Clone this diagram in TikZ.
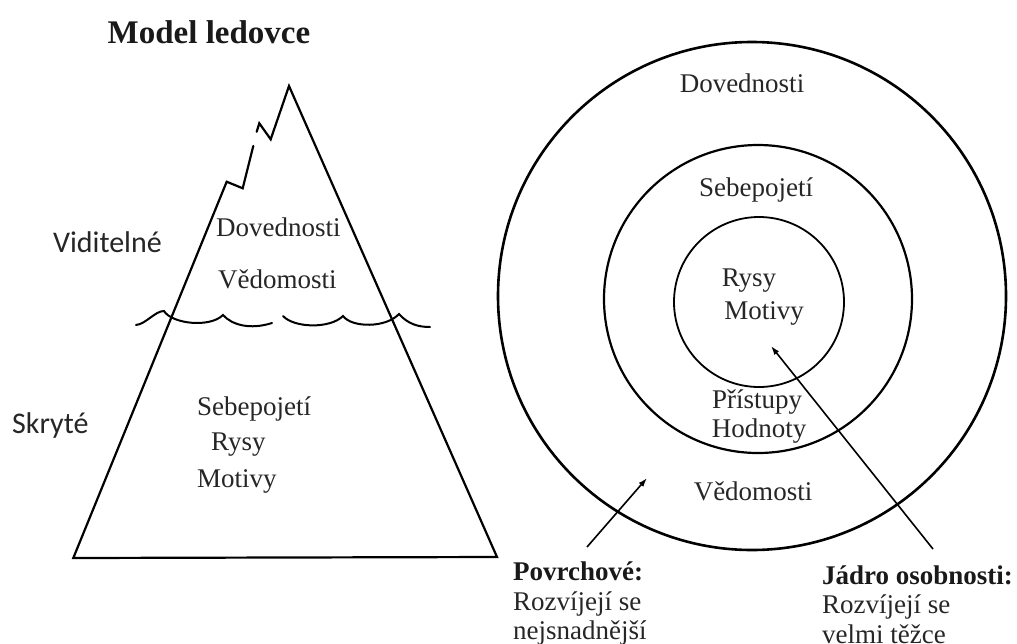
\documentclass[tikz,border=0pt]{standalone}
\usepackage{fontspec}
\setmainfont{Liberation Serif}
\newfontfamily\calfont{Carlito}
\usetikzlibrary{arrows.meta}
\definecolor{ink}{rgb}{0.15,0.15,0.15}
\begin{document}
\begin{tikzpicture}[x=1pt,y=-1pt,
  ln/.style={line width=2.2pt, line join=miter, line cap=round},
  wave/.style={line width=2pt, line cap=round},
  ring/.style={circle, draw, inner sep=0pt, outer sep=0pt},
  txt/.style={font=\fontsize{27}{30}\selectfont, inner sep=0pt, text=ink},
  btxt/.style={font=\fontsize{27}{30}\selectfont\bfseries, inner sep=0pt, text=black!90},
  side/.style={font=\calfont\fontsize{30}{34}\selectfont, inner sep=0pt, text=ink},
  arr/.style={line width=1.6pt, -{Latex[length=9pt,width=6pt]}}]
\useasboundingbox (0,0) rectangle (1017,643);

% title
\node[font=\fontsize{33}{36}\selectfont\bfseries, inner sep=0pt, anchor=base, text=black!90] (title) at (209,43) {Model ledovce};

% iceberg
\draw[ln] (253.3,146) -- (242.7,188.3) -- (226.7,181.7) -- (73.3,558) -- (497,557) -- (289,86) -- (270.7,139.3) -- (259.3,123.3) -- (256.7,131.7);
% water line
\draw[wave] (136,325) .. controls (146,324) and (155,311) .. (164,311)
  .. controls (172,324) and (210,328) .. (223,315)
  .. controls (232,325) and (250,330) .. (272,323);
\draw[wave] (283,316) .. controls (294,328) and (330,329) .. (343,316)
  .. controls (352,328) and (386,328) .. (399,314)
  .. controls (408,324) and (418,327) .. (430,327);

\node[side, anchor=base east] (vid) at (162,252) {Viditelné};
\node[side, anchor=base west] (skr) at (12,433) {Skryté};

\node[txt, anchor=base west] (idov) at (216,236) {Dovednosti};
\node[txt, anchor=base west] (ived) at (218,288) {Vědomosti};
\node[txt, anchor=base west] (iseb) at (197,415) {Sebepojetí};
\node[txt, anchor=base west] (irys) at (211,450) {Rysy};
\node[txt, anchor=base west] (imot) at (197,487) {Motivy};

% circles
\node[ring, line width=2.6pt, minimum size=508pt] (outer) at (752,296) {};
\node[ring, line width=2.2pt, minimum size=308pt] (middle) at (758,299) {};
\node[ring, line width=1.8pt, minimum size=170pt] (inner) at (759,302) {};

\node[txt, anchor=base] (cdov) at (742,92) {Dovednosti};
\node[txt, anchor=base] (cseb) at (756,196) {Sebepojetí};
\node[txt, anchor=base] (crys) at (749,286) {Rysy};
\node[txt, anchor=base] (cmot) at (764,319) {Motivy};
\node[txt, anchor=base] (cpri) at (757,408) {Přístupy};
\node[txt, anchor=base] (chod) at (759,437) {Hodnoty};
\node[txt, anchor=base] (cved) at (753,500) {Vědomosti};

% bottom labels
\node[btxt, anchor=base west] (povr) at (513,580) {Povrchové:};
\node[txt, anchor=base west] (povr2) at (513,610) {Rozvíjejí se};
\node[txt, anchor=base west] (povr3) at (513,639) {nejsnadnější};
\node[btxt, anchor=base west] (jadro) at (822,584) {Jádro osobnosti:};
\node[txt, anchor=base west] (jadro2) at (822,613) {Rozvíjejí se};
\node[txt, anchor=base west] (jadro3) at (822,643) {velmi těžce};

% arrows
\coordinate (ptail) at (587,547);
\coordinate (phead) at (647,478);
\coordinate (jtail) at (933,549);
\coordinate (jhead) at (771,346);
\draw[arr] (ptail) -- (phead);
\draw[arr] (jtail) -- (jhead);
\end{tikzpicture}
\end{document}
